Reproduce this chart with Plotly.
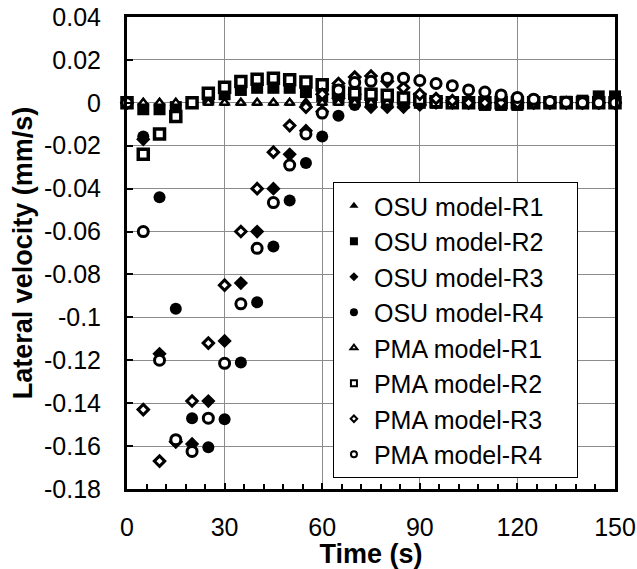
import plotly.graph_objects as go

time_s = [0, 5, 10, 15, 20, 25, 30, 35, 40, 45, 50, 55, 60, 65, 70, 75, 80, 85, 90, 95,
          100, 105, 110, 115, 120, 125, 130, 135, 140, 145, 150]

osu_r1 = [0.0] * 31
osu_r2 = [0, -0.003, -0.003, -0.002, 0, 0.002, 0.004, 0.006, 0.007, 0.007, 0.007, 0.005, 0.003,
          0.002, 0.001, 0.001, 0, 0, 0, 0, 0, 0, -0.001, -0.001, -0.001, 0, 0, 0.0005, 0.001,
          0.003, 0.003]
osu_r3 = [0, -0.017, -0.117, -0.158, -0.159, -0.139, -0.111, -0.084, -0.060, -0.040, -0.024,
          -0.013, -0.004, 0.002, 0.004, -0.002, -0.002, -0.002, -0.001, 0, 0, 0, 0, 0, 0, 0, 0,
          0, 0, 0, 0]
osu_r4 = [0, -0.0157, -0.044, -0.096, -0.147, -0.1605, -0.1475, -0.121, -0.093, -0.067, -0.0455,
          -0.028, -0.0157, -0.006, -0.001, 0, 0, 0, 0, 0, 0, 0, 0, 0, 0, 0, 0, 0, 0, 0, 0]
pma_r1 = [0.0] * 31
pma_r2 = [0, -0.024, -0.0145, -0.0064, 0, 0.0045, 0.0073, 0.0099, 0.011, 0.0115, 0.0107, 0.0097,
          0.0084, 0.005, 0.0045, 0.004, 0.0035, 0.0023, 0.0015, 0.0005, 0, 0, 0, 0, 0, 0, 0, 0,
          0, 0, 0]
pma_r3 = [0, -0.143, -0.167, -0.158, -0.139, -0.112, -0.085, -0.060, -0.040, -0.023, -0.0106,
          -0.002, 0.004, 0.009, 0.012, 0.0125, 0.010, 0.007, 0.004, 0.002, 0.001, 0, 0, 0, 0, 0,
          0, 0, 0, 0, 0]
pma_r4 = [0, -0.060, -0.120, -0.157, -0.1625, -0.147, -0.1214, -0.0937, -0.0678, -0.0465, -0.029,
          -0.0145, -0.0048, 0.006, 0.0095, 0.010, 0.0115, 0.0115, 0.0104, 0.009, 0.008, 0.006,
          0.005, 0.0037, 0.0025, 0.0017, 0.0006, 0.0003, 0, 0, 0]

series_names = ["OSU model-R1", "OSU model-R2", "OSU model-R3", "OSU model-R4",
                "PMA model-R1", "PMA model-R2", "PMA model-R3", "PMA model-R4"]

y_tick_vals = [0.04, 0.02, 0, -0.02, -0.04, -0.06, -0.08, -0.1, -0.12, -0.14, -0.16, -0.18]
y_tick_text = ["0.04", "0.02", "0", "-0.02", "-0.04", "-0.06", "-0.08", "-0.1", "-0.12",
               "-0.14", "-0.16", "-0.18"]
x_tick_vals = [0, 30, 60, 90, 120, 150]

FONT = "Liberation Sans, Arial, sans-serif"
PAD = "\u00a0\u00a0\u00a0\u00a0"

styles = [
    dict(symbol="triangle-up", size=11, color="black", line=dict(width=0)),
    dict(symbol="square", size=12, color="black", line=dict(width=0)),
    dict(symbol="diamond", size=11, color="black", line=dict(width=0)),
    dict(symbol="circle", size=12, color="black", line=dict(width=0)),
    dict(symbol="triangle-up", size=8, color="white", line=dict(width=2.5, color="black")),
    dict(symbol="square", size=10, color="white", line=dict(width=3.5, color="black")),
    dict(symbol="diamond", size=8, color="white", line=dict(width=3, color="black")),
    dict(symbol="circle", size=10, color="white", line=dict(width=3, color="black")),
]
legend_styles = [
    dict(symbol="triangle-up", size=8, color="black", line=dict(width=0)),
    dict(symbol="square", size=8, color="black", line=dict(width=0)),
    dict(symbol="diamond", size=7, color="black", line=dict(width=0)),
    dict(symbol="circle", size=8, color="black", line=dict(width=0)),
    dict(symbol="triangle-up", size=6, color="white", line=dict(width=2, color="black")),
    dict(symbol="square", size=6, color="white", line=dict(width=2, color="black")),
    dict(symbol="diamond", size=5, color="white", line=dict(width=2, color="black")),
    dict(symbol="circle", size=6, color="white", line=dict(width=2, color="black")),
]
all_series = [osu_r1, osu_r2, osu_r3, osu_r4, pma_r1, pma_r2, pma_r3, pma_r4]

fig = go.Figure()
for name, ys, st in zip(series_names, all_series, styles):
    fig.add_trace(go.Scatter(x=time_s, y=ys, mode="markers", name=name, marker=st,
                             showlegend=False, cliponaxis=False, hoverinfo="x+y+name"))
for name, st in zip(series_names, legend_styles):
    fig.add_trace(go.Scatter(x=[None], y=[None], mode="markers", name=name + PAD, marker=st,
                             showlegend=True))

fig.update_layout(
    width=637, height=569,
    margin=dict(l=127, r=22, t=17, b=80, autoexpand=False),
    paper_bgcolor="white", plot_bgcolor="white",
    font=dict(family=FONT, size=25, color="black"),
    legend=dict(x=0.422, y=0.6504, xanchor="left", yanchor="top",
                bordercolor="black", borderwidth=1, bgcolor="white",
                font=dict(family=FONT, size=25, color="black"),
                itemwidth=30),
    xaxis=dict(range=[0, 150], tickvals=x_tick_vals, ticks="inside", ticklen=6, tickwidth=2,
               tickcolor="black", showgrid=True, gridcolor="#8c8c8c", gridwidth=1,
               showline=True, linewidth=3, linecolor="black", mirror=True, zeroline=False,
               automargin=False,
               minor=dict(dtick=6, tick0=0, ticks="inside", ticklen=5, tickwidth=2,
                          tickcolor="black", showgrid=False),
               tickfont=dict(family=FONT, size=25), ticklabelstandoff=14,
               title=dict(text="<b>Time (s)</b>", font=dict(family=FONT, size=27), standoff=2)),
    yaxis=dict(range=[-0.18, 0.04], tickvals=y_tick_vals, ticktext=y_tick_text,
               ticks="inside", ticklen=6, tickwidth=2, tickcolor="black",
               showgrid=True, gridcolor="#8c8c8c", gridwidth=1,
               showline=True, linewidth=3, linecolor="black", mirror=True, zeroline=False,
               automargin=False,
               tickfont=dict(family=FONT, size=25), ticklabelstandoff=18,
               title=dict(text="<b>Lateral velocity (mm/s)</b>", font=dict(family=FONT, size=27),
                          standoff=4)),
)

fig.write_html("out.html")
